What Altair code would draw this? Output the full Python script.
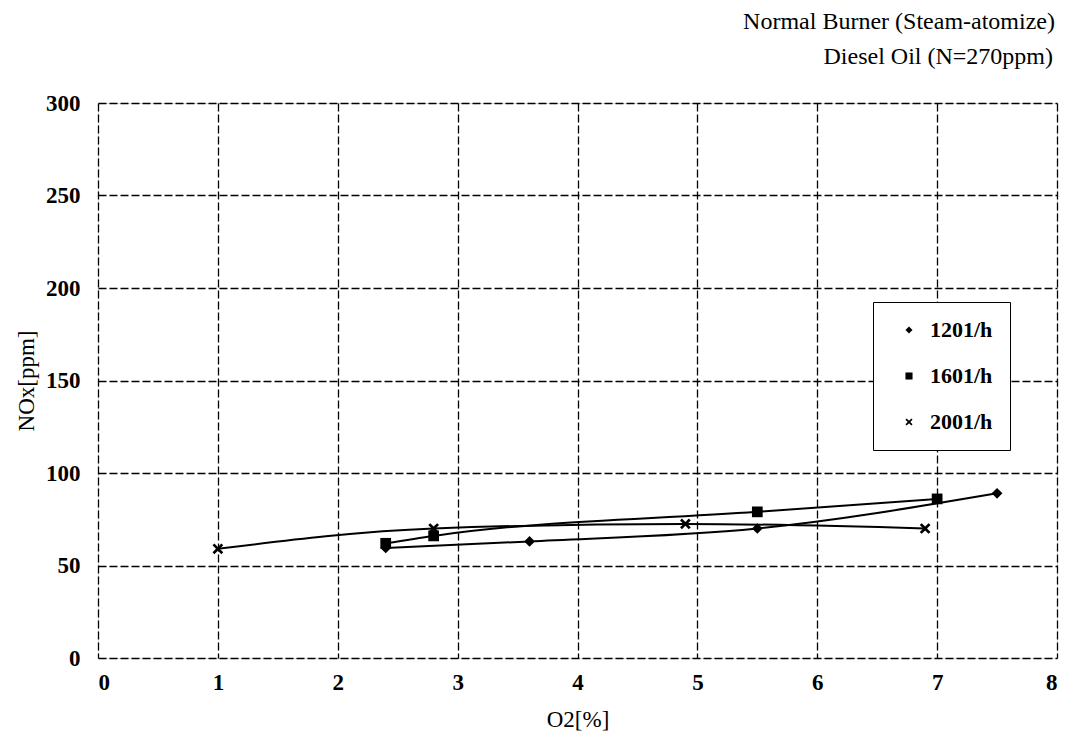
import altair as alt
import pandas as pd

# ---- data ----
series_names = ["1201/h", "1601/h", "2001/h"]
o2_1201 = [2.4, 3.6, 5.5, 7.5]
nox_1201 = [59.5, 63, 70, 89]
o2_1601 = [2.4, 2.8, 5.5, 7.0]
nox_1601 = [62, 66, 79, 86]
o2_2001 = [1.0, 2.8, 4.9, 6.9]
nox_2001 = [59, 70, 72.5, 70]
x_ticks = [0, 1, 2, 3, 4, 5, 6, 7, 8]
y_ticks = [0, 50, 100, 150, 200, 250, 300]
header_line1 = "Normal Burner (Steam-atomize)"
header_line2 = "Diesel Oil (N=270ppm)"

rows = []
for name, xs, ys in zip(series_names, [o2_1201, o2_1601, o2_2001], [nox_1201, nox_1601, nox_2001]):
    for x, y in zip(xs, ys):
        rows.append({"series": name, "O2": x, "NOx": y})
df = pd.DataFrame(rows)

FONT = "Liberation Serif, serif"
SERIF = "Liberation Serif, Times New Roman, serif"
W, H = 959, 555

X_SHAPE = "M-1,-0.65L-0.65,-1L0,-0.35L0.65,-1L1,-0.65L0.35,0L1,0.65L0.65,1L0,0.35L-0.65,1L-1,0.65L-0.35,0Z"

x_enc = alt.X("O2:Q", scale=alt.Scale(domain=[0, 8], nice=False),
              axis=alt.Axis(title="O2[%]", values=x_ticks, format="d", ticks=False, domain=False,
                            labelPadding=13, labelFont=FONT, labelFontSize=23, labelFontWeight="bold",
                            labelColor="black", titleFont=FONT, titleFontSize=23, titleFontWeight="normal",
                            titleColor="black", titleY=61, titleBaseline="middle",
                            grid=True, gridColor="black", gridDash=[8, 3], gridWidth=1.3, gridOpacity=1))
y_enc = alt.Y("NOx:Q", scale=alt.Scale(domain=[0, 300], nice=False),
              axis=alt.Axis(title="NOx[ppm]", values=y_ticks, ticks=False, domain=False,
                            labelPadding=18, labelFont=FONT, labelFontSize=23, labelFontWeight="bold",
                            labelColor="black", titleFont=FONT, titleFontSize=23, titleFontWeight="normal",
                            titleColor="black", titleX=-72, titleY=H / 2, titleBaseline="middle",
                            grid=True, gridColor="black", gridDash=[8, 3], gridWidth=1.3, gridOpacity=1))

lines = alt.Chart(df).mark_line(color="black", strokeWidth=2, interpolate="monotone").encode(
    x=x_enc, y=y_enc, detail="series:N", order="O2:Q"
)

points = alt.Chart(df).mark_point(filled=True, color="black", opacity=1, size=115).encode(
    x="O2:Q", y="NOx:Q",
    shape=alt.Shape("series:N",
                    scale=alt.Scale(domain=series_names, range=["diamond", "square", X_SHAPE]),
                    legend=alt.Legend(title=None, orient="none", legendX=775, legendY=199,
                                      strokeColor="black", fillColor="white", padding=17,
                                      symbolOffset=8, rowPadding=24, labelOffset=10,
                                      labelFont=FONT, labelFontSize=22, labelFontWeight="bold",
                                      labelColor="black", symbolSize=50, symbolFillColor="black",
                                      symbolStrokeColor="black", symbolStrokeWidth=0)),
)

header1 = alt.Chart(pd.DataFrame({"t": [header_line1]})).mark_text(
    align="right", baseline="middle", font=SERIF, fontSize=24, color="black"
).encode(text="t:N", x=alt.value(W - 2), y=alt.value(-81))

header2 = alt.Chart(pd.DataFrame({"t": [header_line2]})).mark_text(
    align="right", baseline="middle", font=SERIF, fontSize=24, color="black"
).encode(text="t:N", x=alt.value(W - 4), y=alt.value(-46))

chart = alt.layer(lines, points, header1, header2).properties(
    width=W, height=H,
    autosize=alt.AutoSizeParams(type="none"),
    padding={"left": 90, "top": 95, "right": 8, "bottom": 76},
).configure_view(stroke="black", strokeWidth=2).configure(background="white")

chart.save("out.html", embed_options={"renderer": "svg", "actions": False})
